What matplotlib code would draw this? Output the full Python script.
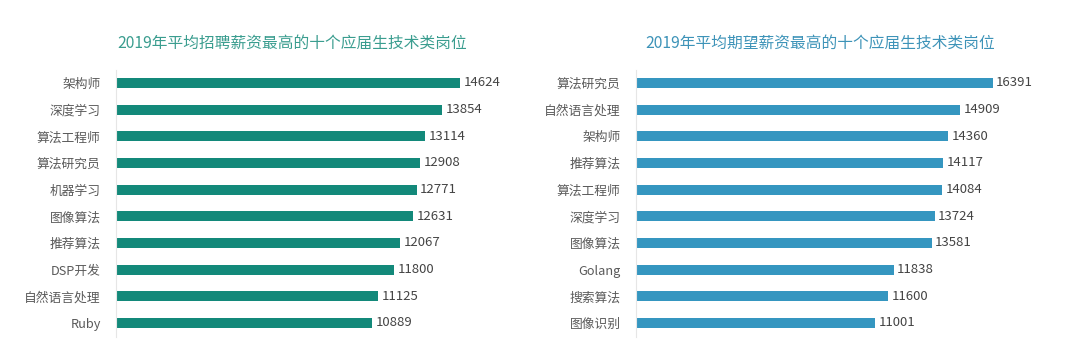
import matplotlib
matplotlib.use("Agg")
import matplotlib.pyplot as plt

plt.rcParams['font.family'] = ['Noto Sans CJK SC', 'DejaVu Sans']

left_title = "2019年平均招聘薪资最高的十个应届生技术类岗位"
left_cats = ["架构师", "深度学习", "算法工程师", "算法研究员", "机器学习",
             "图像算法", "推荐算法", "DSP开发", "自然语言处理", "Ruby"]
left_vals = [14624, 13854, 13114, 12908, 12771, 12631, 12067, 11800, 11125, 10889]

right_title = "2019年平均期望薪资最高的十个应届生技术类岗位"
right_cats = ["算法研究员", "自然语言处理", "架构师", "推荐算法", "算法工程师",
              "深度学习", "图像算法", "Golang", "搜索算法", "图像识别"]
right_vals = [16391, 14909, 14360, 14117, 14084, 13724, 13581, 11838, 11600, 11001]

W, H = 1080, 362
fig = plt.figure(figsize=(W / 100, H / 100), dpi=100)
fig.patch.set_facecolor("white")


def panel(x0, scale, cats, vals, bar_color, title, title_color, title_cx):
    width_px = 400
    ax = fig.add_axes([x0 / W, (H - 337) / H, width_px / W, 267 / H])
    y = list(range(len(cats)))
    ax.barh(y, vals, height=0.38, color=bar_color)
    ax.set_xlim(0, width_px / scale)
    ax.set_ylim(9.525, -0.4875)
    ax.set_yticks(y)
    ax.set_yticklabels(cats, fontsize=9.2, color="#5a5a5a")
    ax.tick_params(axis="y", length=0, pad=11)
    ax.set_xticks([])
    for s in ["top", "right", "bottom"]:
        ax.spines[s].set_visible(False)
    ax.spines["left"].set_color("#e6e6e6")
    ax.spines["left"].set_linewidth(0.8)
    for yi, v in zip(y, vals):
        ax.annotate(f"{v}", xy=(v, yi), xytext=(2.5, 0), textcoords="offset points",
                    va="center", ha="left", fontsize=9.5, color="#444444")
    fig.text(title_cx / W, 1 - 43 / H, title, ha="center", va="center",
             fontsize=11.3, color=title_color)
    return ax


panel(116, 0.02355, left_cats, left_vals, "#13897a", left_title, "#3a9d8f", 292)
panel(636, 0.02176, right_cats, right_vals, "#3596c0", right_title, "#3d93b8", 820)

fig.savefig("out.png", dpi=100, facecolor="white")
